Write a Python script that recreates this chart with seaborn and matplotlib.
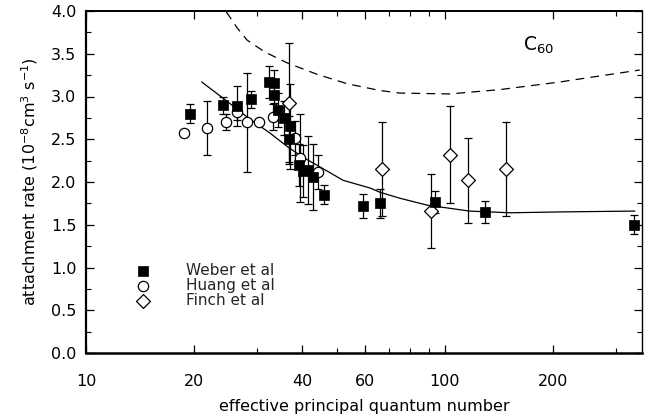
import numpy as np
import pandas as pd
import matplotlib
matplotlib.use("Agg")
import matplotlib.pyplot as plt
import seaborn as sns
from matplotlib.ticker import FixedLocator, NullFormatter

# ---- data ----
weber_x = [19.5, 24.1, 26.3, 28.8, 32.3, 33.4, 33.4, 34.3, 35.6, 37.0, 36.8,
           39.2, 40.2, 41.5, 42.9, 46.0, 59.1, 65.9, 93.8, 129, 336]
weber_y = [2.80, 2.90, 2.89, 2.97, 3.17, 3.16, 3.02, 2.84, 2.75, 2.65, 2.50,
           2.20, 2.13, 2.14, 2.06, 1.85, 1.72, 1.75, 1.77, 1.65, 1.50]
weber_err = [0.11, 0.10, 0.23, 0.10, 0.19, 0.15, 0.10, 0.20, 0.20, 0.50, 0.27,
             0.25, 0.30, 0.40, 0.39, 0.11, 0.14, 0.17, 0.13, 0.13, 0.11]

huang_x = [18.75, 21.7, 24.5, 26.3, 28.1, 30.3, 33.2, 38.2, 39.5, 44.3]
huang_y = [2.57, 2.63, 2.70, 2.82, 2.70, 2.70, 2.76, 2.51, 2.28, 2.12]
huang_err = [0.0, 0.32, 0.09, 0.10, 0.58, 0.0, 0.15, 0.20, 0.51, 0.20]

finch_x = [36.8, 66.8, 91.4, 103, 116, 148]
finch_y = [2.92, 2.15, 1.66, 2.32, 2.02, 2.15]
finch_err = [0.71, 0.55, 0.43, 0.57, 0.50, 0.55]

fit_x = [21.0, 24.1, 28.1, 32.6, 36.5, 40.2, 47.8, 52.0, 61.8, 65.9, 74.9, 89.1,
         117, 152, 209, 338]
fit_y = [3.17, 2.98, 2.76, 2.57, 2.41, 2.29, 2.11, 2.02, 1.93, 1.88, 1.81, 1.73,
         1.66, 1.64, 1.65, 1.66]

c60_x = [24.6, 26.4, 28.1, 31.5, 36.5, 44.0, 53.3, 65.9, 74.9, 103, 142, 209, 349]
c60_y = [3.99, 3.80, 3.66, 3.52, 3.39, 3.26, 3.15, 3.07, 3.04, 3.03, 3.08, 3.17, 3.31]

xtick_vals = [10, 20, 40, 60, 100, 200]
xtick_labels = ["10", "20", "40", "60", "100", "200"]

fit_df = pd.DataFrame({"x": fit_x, "y": fit_y})
c60_df = pd.DataFrame({"x": c60_x, "y": c60_y})

sns.set_theme(style="ticks")
plt.rcParams['font.family'] = ['DejaVu Sans']

fig = plt.figure(figsize=(6.46, 4.20), dpi=100)
ax = fig.add_axes([86/646, 1-353/420, (642-86)/646, (353-11)/420])
ax.set_xscale("log")

# error bars
ebkw = dict(fmt="none", ecolor="black", elinewidth=0.9, capsize=3.2, capthick=0.9, zorder=2)
ax.errorbar(weber_x, weber_y, yerr=weber_err, **ebkw)
he = np.array(huang_err)
m = he > 0
ax.errorbar(np.array(huang_x)[m], np.array(huang_y)[m], yerr=he[m], **ebkw)
ax.errorbar(finch_x, finch_y, yerr=finch_err, **ebkw)

# lines
sns.lineplot(data=fit_df, x="x", y="y", ax=ax, color="black", lw=0.9, sort=True,
             estimator=None, zorder=1)
sns.lineplot(data=c60_df, x="x", y="y", ax=ax, color="black", lw=0.9, sort=True,
             estimator=None, zorder=1, linestyle=(0, (7, 5)))

# markers
sns.scatterplot(x=weber_x, y=weber_y, ax=ax, marker="s", s=55, color="black",
                edgecolor="black", linewidth=0.5, zorder=4, label="Weber et al")
sns.scatterplot(x=huang_x, y=huang_y, ax=ax, marker="o", s=55, facecolor="white",
                edgecolor="black", linewidth=0.9, zorder=3, label="Huang et al")
sns.scatterplot(x=finch_x, y=finch_y, ax=ax, marker="D", s=50, facecolor="white",
                edgecolor="black", linewidth=0.9, zorder=3, label="Finch et al")

ax.set_xlim(10, 354)
ax.set_ylim(0, 4.0)
ax.xaxis.set_major_locator(FixedLocator(xtick_vals))
ax.set_xticklabels(xtick_labels)
ax.xaxis.set_minor_locator(FixedLocator([30, 50, 70, 80, 90, 300]))
ax.xaxis.set_minor_formatter(NullFormatter())
ax.set_yticks(np.arange(0, 4.01, 0.5))
ax.set_yticks(np.arange(0.25, 4.0, 0.5), minor=True)
ax.set_yticklabels([f"{v:.1f}" for v in np.arange(0, 4.01, 0.5)])

ax.tick_params(which="both", direction="in", top=True, right=True, colors="black",
               labelsize=11.5)
ax.tick_params(axis="y", pad=7)
ax.tick_params(axis="x", pad=15)
ax.tick_params(which="major", length=6, width=0.9)
ax.tick_params(which="minor", length=3.5, width=0.8)

for side, sp in ax.spines.items():
    sp.set_color("black")
    sp.set_linewidth(1.0)
ax.spines["left"].set_linewidth(1.6)
ax.spines["bottom"].set_linewidth(1.8)
ax.spines["top"].set_linewidth(1.4)

ax.set_xlabel("effective principal quantum number", fontsize=11.5, color="black", labelpad=7)
ax.set_ylabel(r"attachment rate (10$^{-8}$cm$^{3}$ s$^{-1}$)", fontsize=11.5, color="black",
              labelpad=8)

ax.text(165, 3.6, r"C$_{60}$", fontsize=13.5, color="black", va="center", ha="left")

leg = ax.legend(loc="upper left", bbox_to_anchor=(0.075, 0.28), frameon=False,
                fontsize=11, handletextpad=2.2, labelspacing=0.0, borderaxespad=0,
                handlelength=1.2)

fig.savefig("out.png", dpi=100)
